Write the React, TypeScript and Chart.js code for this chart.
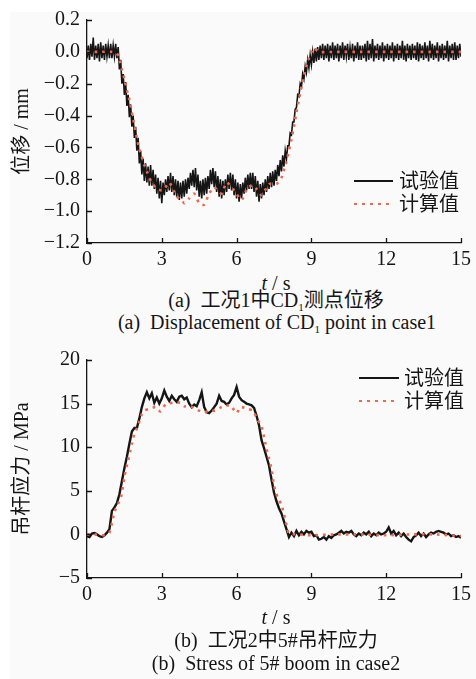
import React, { useEffect, useRef } from "react";
import { Chart, registerables } from "chart.js";

Chart.register(...registerables);

// ---------- DATA ----------
// sampling interval of the measured (试验值) records, seconds
const SAMPLE_DT = 0.1;

// (a) displacement of CD1, mm — measured signal is strongly oscillating;
// stored as its upper and lower envelope, one pair every 0.1 s from 0 to 15 s
const expDispHi = [
  0.04, 0.05, 0.09, 0.04, 0.05, 0.06, 0.04, 0.05, 0.04, 0.05,
  0.04, 0.05, 0.03, -0.05, -0.14, -0.19, -0.27, -0.33, -0.40, -0.47,
  -0.54, -0.62, -0.67, -0.70, -0.72, -0.71, -0.74, -0.77, -0.79, -0.81,
  -0.82, -0.80, -0.78, -0.76, -0.78, -0.80, -0.81, -0.82, -0.81, -0.80,
  -0.79, -0.76, -0.74, -0.73, -0.77, -0.81, -0.80, -0.79, -0.78, -0.74,
  -0.73, -0.75, -0.78, -0.80, -0.81, -0.80, -0.77, -0.76, -0.77, -0.80,
  -0.82, -0.83, -0.82, -0.79, -0.77, -0.76, -0.76, -0.78, -0.81, -0.83,
  -0.82, -0.80, -0.78, -0.76, -0.75, -0.74, -0.71, -0.68, -0.65, -0.62,
  -0.59, -0.51, -0.44, -0.36, -0.27, -0.20, -0.14, -0.09, -0.05, -0.02,
  0.00, 0.02, 0.03, 0.04, 0.05, 0.04, 0.05, 0.04, 0.06, 0.04,
  0.05, 0.04, 0.06, 0.04, 0.05, 0.03, 0.05, 0.04, 0.06, 0.04,
  0.04, 0.05, 0.07, 0.05, 0.08, 0.04, 0.05, 0.04, 0.06, 0.04,
  0.05, 0.04, 0.06, 0.04, 0.05, 0.04, 0.07, 0.04, 0.05, 0.04,
  0.05, 0.04, 0.06, 0.05, 0.04, 0.06, 0.04, 0.07, 0.05, 0.04,
  0.06, 0.04, 0.05, 0.04, 0.07, 0.04, 0.05, 0.06, 0.04, 0.05,
  0.04,
];
const expDispLo = [
  -0.04, -0.05, -0.03, -0.05, -0.04, -0.06, -0.04, -0.05, -0.03, -0.04,
  -0.04, -0.03, -0.04, -0.11, -0.20, -0.27, -0.34, -0.41, -0.47, -0.54,
  -0.62, -0.70, -0.77, -0.81, -0.82, -0.84, -0.84, -0.86, -0.89, -0.92,
  -0.95, -0.90, -0.88, -0.87, -0.88, -0.90, -0.91, -0.93, -0.92, -0.91,
  -0.89, -0.86, -0.84, -0.85, -0.87, -0.91, -0.92, -0.90, -0.89, -0.86,
  -0.83, -0.85, -0.88, -0.91, -0.92, -0.90, -0.88, -0.86, -0.87, -0.90,
  -0.92, -0.94, -0.92, -0.89, -0.87, -0.86, -0.86, -0.88, -0.91, -0.94,
  -0.92, -0.90, -0.88, -0.86, -0.85, -0.84, -0.81, -0.78, -0.75, -0.72,
  -0.67, -0.59, -0.52, -0.44, -0.35, -0.28, -0.22, -0.17, -0.13, -0.10,
  -0.08, -0.07, -0.06, -0.05, -0.04, -0.05, -0.04, -0.06, -0.04, -0.05,
  -0.04, -0.06, -0.04, -0.05, -0.03, -0.05, -0.04, -0.06, -0.04, -0.05,
  -0.05, -0.04, -0.06, -0.05, -0.04, -0.06, -0.04, -0.05, -0.04, -0.06,
  -0.04, -0.05, -0.04, -0.06, -0.04, -0.05, -0.04, -0.05, -0.06, -0.04,
  -0.05, -0.04, -0.05, -0.06, -0.04, -0.05, -0.04, -0.06, -0.04, -0.05,
  -0.04, -0.06, -0.04, -0.05, -0.04, -0.06, -0.04, -0.05, -0.05, -0.04,
  -0.03,
];

// (a) computed (计算值) displacement, time (s) and value (mm)
const calcDispT = [
  0, 0.5, 1.0, 1.2, 1.3, 1.4, 1.5, 1.6, 1.7, 1.8, 1.9, 2.0, 2.1, 2.2, 2.3, 2.4,
  2.5, 2.6, 2.8, 3.0, 3.1, 3.3, 3.5, 3.6, 3.8, 3.9, 4.1, 4.3, 4.5, 4.7, 4.9,
  5.1, 5.4, 5.6, 5.9, 6.2, 6.45, 6.7, 7.0, 7.3, 7.6, 7.8, 7.9, 8.0, 8.1, 8.2,
  8.3, 8.4, 8.5, 8.6, 8.7, 8.8, 8.9, 9.0, 9.1, 9.3, 10, 11, 12, 13, 14, 15,
];
const calcDisp = [
  0, 0, 0, -0.01, -0.05, -0.11, -0.17, -0.24, -0.30, -0.38, -0.46, -0.54,
  -0.61, -0.66, -0.71, -0.75, -0.79, -0.82, -0.86, -0.87, -0.86, -0.82,
  -0.88, -0.91, -0.93, -0.95, -0.92, -0.89, -0.95, -0.96, -0.89, -0.85,
  -0.89, -0.82, -0.87, -0.93, -0.85, -0.84, -0.90, -0.83, -0.83, -0.79,
  -0.74, -0.69, -0.62, -0.55, -0.47, -0.38, -0.30, -0.22, -0.15, -0.09,
  -0.04, 0.0, 0.025, 0.0, 0, 0, 0, 0, 0, 0,
];

// (b) stress of 5# boom, MPa — measured, one value every 0.1 s from 0 to 15 s
const expStress = [
  -0.2, -0.3, 0.1, 0.15, 0.0, -0.2, -0.3, -0.1, 0.2, 0.6,
  2.7, 3.1, 3.6, 4.6, 6.1, 7.6, 8.9, 10.4, 11.8, 12.2,
  12.2, 13.3, 14.6, 15.6, 16.3, 15.6, 16.2, 15.1, 15.7, 15.0,
  15.6, 16.5, 15.8, 15.3, 15.9, 15.5, 15.2, 15.8, 15.9, 15.5,
  15.7, 15.0, 14.6, 14.9, 14.7, 15.4, 16.3, 14.6, 14.0, 13.9,
  14.2, 14.6, 15.0, 15.9, 15.3, 15.2, 14.9, 15.1, 15.6, 16.0,
  16.9, 15.8, 15.4, 15.2, 15.0, 14.9, 14.8, 14.5, 13.6, 12.5,
  10.8, 9.9, 8.9, 7.9, 6.3, 4.8, 3.8, 3.0, 2.4, 1.5,
  0.6, -0.3, 0.2, -0.2, 0.4, -0.1, 0.3, 0.0, 0.4, 0.2,
  0.3, -0.2, -0.1, -0.6, -0.5, -0.3, -0.6, -0.2, -0.4, -0.1,
  0.0, 0.2, 0.4, 0.1, 0.3, 0.2, 0.4, 0.0, -0.2, 0.1,
  -0.1, 0.2, 0.0, 0.3, -0.2, 0.1, -0.1, 0.2, 0.0, 0.1,
  0.3, 0.8, 0.1, 0.4, -0.1, 0.2, -0.2, 0.1, -0.3, -0.6,
  -0.8, -0.3, -0.1, 0.2, -0.2, 0.1, -0.3, 0.0, 0.2, 0.1,
  0.3, 0.4, 0.3, 0.2, 0.0, 0.1, -0.2, -0.1, -0.3, -0.2,
  -0.4,
];

// (b) computed (计算值) stress, time (s) and value (MPa)
const calcStressT = [
  0, 0.3, 0.6, 0.8, 0.9, 1.0, 1.1, 1.25, 1.4, 1.5, 1.65, 1.8, 1.9, 2.05, 2.2,
  2.3, 2.5, 2.75, 2.95, 3.15, 3.45, 3.75, 3.9, 4.15, 4.4, 4.7, 4.9, 5.15, 5.4,
  5.75, 6.0, 6.15, 6.45, 6.65, 6.85, 7.0, 7.1, 7.2, 7.3, 7.4, 7.5, 7.65, 7.8,
  7.9, 8.0, 8.1, 8.5, 9, 10, 11, 12, 13, 14, 15,
];
const calcStress = [
  0, 0, -0.1, 0, 0.2, 1.3, 2.6, 3.5, 4.7, 6.6, 8.5, 10.4, 11.5, 12.5, 13.8,
  14.2, 14.4, 14.6, 14.1, 14.9, 15.1, 15.1, 14.7, 14.7, 14.3, 14.0, 14.2, 14.2,
  14.6, 14.8, 13.9, 14.6, 14.4, 14.2, 13.1, 12.4, 11.2, 9.8, 8.7, 7.5, 5.6,
  4.2, 3.4, 2.3, 1.1, 0.1, 0, -0.1, 0, 0, -0.1, 0, 0, -0.2,
];

const xTicks = [0, 3, 6, 9, 12, 15];
const seriesNames = ["试验值", "计算值"];

// ---------- STYLE ----------
const SERIF = '"Liberation Serif", "Times New Roman", "Noto Sans CJK SC", serif';
const INK = "#151515";
const CALC_COLOR = "#ee6a4a";

const inwardTicks = {
  id: "inwardTicks",
  afterDraw(chart: any) {
    const { ctx, chartArea, scales } = chart;
    ctx.save();
    ctx.strokeStyle = INK;
    ctx.lineWidth = 1.3;
    ctx.beginPath();
    scales.x.ticks.forEach((t: any) => {
      const px = Math.round(scales.x.getPixelForValue(t.value)) + 0.5;
      ctx.moveTo(px, chartArea.bottom);
      ctx.lineTo(px, chartArea.bottom - 5);
    });
    scales.y.ticks.forEach((t: any) => {
      const py = Math.round(scales.y.getPixelForValue(t.value)) + 0.5;
      ctx.moveTo(chartArea.left, py);
      ctx.lineTo(chartArea.left + 5, py);
    });
    ctx.stroke();
    ctx.restore();
  },
};

// measured points: either a plain series, or an envelope traced as a dense zig-zag
function measuredPoints(a: number[], b?: number[]) {
  const pts: { x: number; y: number }[] = [];
  a.forEach((v, i) => {
    const t = i * SAMPLE_DT;
    pts.push({ x: t, y: v });
    if (b) pts.push({ x: t + SAMPLE_DT / 2, y: b[i] });
  });
  return pts;
}

function makeConfig(opts: {
  exp: { x: number; y: number }[];
  calcT: number[];
  calc: number[];
  yMin: number;
  yMax: number;
  yStep: number;
  yTitle: string;
  yFmt: (v: number) => string;
  xHeight: number;
  expWidth: number;
}) {
  return {
    type: "line",
    data: {
      datasets: [
        {
          label: seriesNames[0],
          data: opts.exp,
          borderColor: INK,
          borderWidth: opts.expWidth,
          pointRadius: 0,
          tension: 0,
          order: 2,
        },
        {
          label: seriesNames[1],
          data: opts.calc.map((v, i) => ({ x: opts.calcT[i], y: v })),
          borderColor: CALC_COLOR,
          borderWidth: 2.6,
          borderDash: [2.6, 5],
          pointRadius: 0,
          tension: 0.2,
          order: 1,
        },
      ],
    },
    options: {
      animation: false,
      responsive: false,
      events: [],
      layout: { padding: { top: 20, right: 11, left: 0, bottom: 0 } },
      plugins: { legend: { display: false }, tooltip: { enabled: false } },
      scales: {
        x: {
          type: "linear",
          min: 0,
          max: 15,
          afterBuildTicks: (s: any) => {
            s.ticks = xTicks.map((v) => ({ value: v }));
          },
          ticks: {
            color: INK,
            font: { family: SERIF, size: 20 },
            padding: 5,
            maxRotation: 0,
            callback: (v: any) => String(v),
          },
          grid: { display: false, drawTicks: false, tickLength: 0 },
          border: { display: true, color: INK, width: 1.3 },
          afterFit: (s: any) => {
            s.height = opts.xHeight;
          },
        },
        y: {
          type: "linear",
          min: opts.yMin,
          max: opts.yMax,
          ticks: {
            stepSize: opts.yStep,
            color: INK,
            font: { family: SERIF, size: 20 },
            padding: 7,
            callback: (v: any) => opts.yFmt(Number(v)),
          },
          grid: { display: false, drawTicks: false, tickLength: 0 },
          border: { display: true, color: INK, width: 1.3 },
          title: {
            display: true,
            text: opts.yTitle,
            color: INK,
            font: { family: SERIF, size: 20 },
            padding: { top: 11, bottom: 0 },
          },
          afterFit: (s: any) => {
            s.width = 87;
          },
        },
      },
    },
    plugins: [inwardTicks],
  };
}

function ChartCanvas({ cfg, top, height }: { cfg: any; top: number; height: number }) {
  const ref = useRef<HTMLCanvasElement | null>(null);
  useEffect(() => {
    if (!ref.current) return;
    let alive = true;
    const chart = new Chart(ref.current, cfg);
    const fonts: any = (document as any).fonts;
    if (fonts && fonts.load) {
      Promise.all([
        fonts.load('20px "Liberation Serif"', "0123456789.−mMPas"),
        fonts.load('20px "Noto Sans CJK SC"', "位移吊杆应力"),
      ])
        .catch(() => null)
        .then(() => {
          if (alive) chart.update();
        });
    }
    return () => {
      alive = false;
      chart.destroy();
    };
  }, []);
  return (
    <canvas
      ref={ref}
      width={476}
      height={height}
      style={{ position: "absolute", left: 0, top, width: 476, height }}
    />
  );
}

function Txt({ cx, cy, children, left }: { cx?: number; cy: number; children: any; left?: number }) {
  const style: any = {
    position: "absolute",
    top: cy,
    fontFamily: SERIF,
    fontSize: 20,
    lineHeight: "24px",
    color: INK,
    whiteSpace: "pre",
  };
  if (left !== undefined) {
    style.left = left;
    style.transform = "translateY(-50%)";
  } else {
    style.left = cx;
    style.transform = "translate(-50%, -50%)";
  }
  return <div style={style}>{children}</div>;
}

function Sub({ children }: { children: any }) {
  return <span style={{ fontSize: 11, position: "relative", top: 4 }}>{children}</span>;
}

function Legend({ x, y1, y2, textLeft, len }: { x: number; y1: number; y2: number; textLeft: number; len: number }) {
  return (
    <>
      <div style={{ position: "absolute", left: x, top: y1 - 1, width: len, height: 2.2, background: INK }} />
      <div
        style={{
          position: "absolute",
          left: x,
          top: y2 - 1.3,
          width: len,
          height: 2.6,
          background: `repeating-linear-gradient(to right, ${CALC_COLOR} 0 3px, transparent 3px 8px)`,
        }}
      />
      <Txt left={textLeft} cy={y1}>{seriesNames[0]}</Txt>
      <Txt left={textLeft} cy={y2}>{seriesNames[1]}</Txt>
    </>
  );
}

const fmtDisp = (n: number) => (Math.abs(n) < 1e-9 ? "0.0" : n.toFixed(1).replace("-", "\u2212"));
const fmtStress = (n: number) => (Math.abs(n) < 1e-9 ? "0" : String(Math.round(n)).replace("-", "\u2212"));

export default function App() {
  useEffect(() => {
    document.body.style.margin = "0";
  }, []);

  const cfgA = makeConfig({
    exp: measuredPoints(expDispLo, expDispHi),
    calcT: calcDispT,
    calc: calcDisp,
    yMin: -1.2,
    yMax: 0.2,
    yStep: 0.2,
    yTitle: "位移 / mm",
    yFmt: fmtDisp,
    xHeight: 27,
    expWidth: 1.6,
  });
  const cfgB = makeConfig({
    exp: measuredPoints(expStress),
    calcT: calcStressT,
    calc: calcStress,
    yMin: -5,
    yMax: 20,
    yStep: 5,
    yTitle: "吊杆应力 / MPa",
    yFmt: fmtStress,
    xHeight: 32,
    expWidth: 2.4,
  });

  return (
    <div style={{ position: "fixed", left: 0, top: 0, width: 476, height: 679, background: "#ffffff", overflow: "hidden" }}>
      <div style={{ position: "absolute", left: 10, top: 12, right: 0, bottom: 0, background: "#fafafa" }} />
      <ChartCanvas cfg={cfgA} top={0} height={270} />
      <ChartCanvas cfg={cfgB} top={340} height={270} />

      <Legend x={354} y1={181} y2={204} textLeft={399} len={39} />
      <Legend x={359} y1={378} y2={401} textLeft={404} len={40} />

      <Txt cx={276} cy={283}>
        <i>t</i> / s
      </Txt>
      <Txt cx={276} cy={301}>
        (a)  工况1中CD<Sub>1</Sub>测点位移
      </Txt>
      <Txt cx={277} cy={323}>
        (a)  Displacement of CD<Sub>1</Sub> point in case1
      </Txt>

      <Txt cx={276} cy={617}>
        <i>t</i> / s
      </Txt>
      <Txt cx={276} cy={640}>
        (b)  工况2中5#吊杆应力
      </Txt>
      <Txt cx={276} cy={663}>
        (b)  Stress of 5# boom in case2
      </Txt>
    </div>
  );
}
